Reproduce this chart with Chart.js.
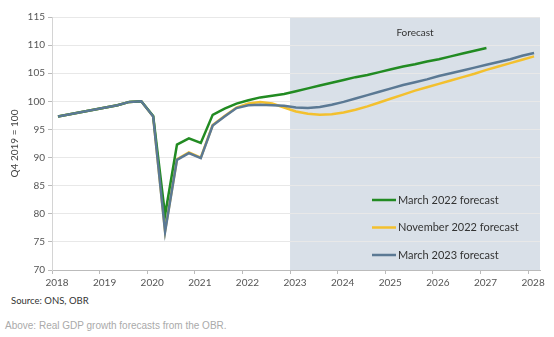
<!DOCTYPE html>
<html>
<head>
<meta charset="utf-8">
<title>Real GDP forecasts</title>
<script src="https://cdn.jsdelivr.net/npm/chart.js@4.4.1/dist/chart.umd.min.js"></script>
<style>
    html, body { margin: 0; padding: 0; background: #fff; }
    #wrap { position: relative; width: 554px; height: 337px; overflow: hidden; }
    #gdpChart { position: absolute; left: 0; top: 0; }
    .source { position: absolute; left: 11px; top: 295px; font: 9.5px Lato, sans-serif; color: #333; }
    .caption { position: absolute; left: 5px; top: 320px; font: 10px "Liberation Sans", Arial, sans-serif; color: #aaa; }
</style>
</head>
<body>
<div id="wrap">
    <canvas id="gdpChart" width="554" height="290"></canvas>
    <div class="source">Source: ONS, OBR</div>
    <div class="caption">Above: Real GDP growth forecasts from the OBR.</div>
</div>
<script>
// Quarters on the x axis, 2018 Q1 to 2028 Q1
const quarters = [
    '2018Q1', '2018Q2', '2018Q3', '2018Q4',
    '2019Q1', '2019Q2', '2019Q3', '2019Q4',
    '2020Q1', '2020Q2', '2020Q3', '2020Q4',
    '2021Q1', '2021Q2', '2021Q3', '2021Q4',
    '2022Q1', '2022Q2', '2022Q3', '2022Q4',
    '2023Q1', '2023Q2', '2023Q3', '2023Q4',
    '2024Q1', '2024Q2', '2024Q3', '2024Q4',
    '2025Q1', '2025Q2', '2025Q3', '2025Q4',
    '2026Q1', '2026Q2', '2026Q3', '2026Q4',
    '2027Q1', '2027Q2', '2027Q3', '2027Q4',
    '2028Q1'
];
const years = [2018, 2019, 2020, 2021, 2022, 2023, 2024, 2025, 2026, 2027, 2028];
const yTicks = [70, 75, 80, 85, 90, 95, 100, 105, 110, 115];
const forecastStart = 2023;

// Real GDP, Q4 2019 = 100
const march2022 = [
    97.3, 97.7, 98.1, 98.5,
    98.9, 99.3, 99.9, 100.0,
    97.4, 79.8, 92.3, 93.4,
    92.6, 97.6, 98.7, 99.6,
    100.2, 100.7, 101.0, 101.3,
    101.8, 102.3, 102.8, 103.3,
    103.8, 104.3, 104.7, 105.2,
    105.7, 106.2, 106.6, 107.1,
    107.5, 108.0, 108.5, 109.0,
    109.5
];
const november2022 = [
    97.3, 97.7, 98.1, 98.5,
    98.9, 99.3, 99.9, 100.0,
    97.3, 77.0, 89.7, 90.9,
    90.0, 95.8, 97.4, 98.9,
    99.6, 99.9, 99.6, 98.9,
    98.2, 97.8, 97.6, 97.7,
    98.0, 98.5, 99.1, 99.8,
    100.5, 101.2, 101.9, 102.5,
    103.1, 103.7, 104.3, 104.9,
    105.6, 106.2, 106.8, 107.4,
    108.0
];
const march2023 = [
    97.3, 97.7, 98.1, 98.5,
    98.9, 99.3, 99.9, 100.0,
    97.3, 76.8, 89.6, 90.8,
    89.9, 95.7, 97.3, 98.8,
    99.3, 99.4, 99.3, 99.2,
    98.9, 98.8, 99.0, 99.4,
    99.9, 100.5, 101.1, 101.7,
    102.3, 102.9, 103.4, 103.9,
    104.5, 105.0, 105.5, 106.0,
    106.5, 107.0, 107.5, 108.1,
    108.6
];

const FONT = 'Lato, "Open Sans", sans-serif';

// quarter label -> middle of that quarter on the year axis
function quarterPos(label) {
    const year = parseInt(label.slice(0, 4), 10);
    const q = parseInt(label.slice(5), 10);
    return year + (q - 0.5) / 4;
}

function toPoints(values) {
    return values.map((v, i) => ({ x: quarterPos(quarters[i]), y: v }));
}

// Shaded forecast period with its label
const forecastShade = {
    id: 'forecastShade',
    beforeDraw(chart) {
        const { ctx, chartArea, scales } = chart;
        const left = scales.x.getPixelForValue(forecastStart);
        ctx.save();
        ctx.fillStyle = '#d9e0e8';
        ctx.fillRect(left, chartArea.top, chartArea.right - left, chartArea.bottom - chartArea.top);
        ctx.fillStyle = '#333';
        ctx.font = '10px ' + FONT;
        ctx.textAlign = 'center';
        ctx.textBaseline = 'middle';
        ctx.fillText('Forecast', (left + chartArea.right) / 2, chartArea.top + 16);
        ctx.restore();
    }
};

// Legend drawn inside the forecast area
const insideLegend = {
    id: 'insideLegend',
    afterDatasetsDraw(chart) {
        const { ctx, chartArea } = chart;
        const x0 = chartArea.right - 168;
        let y = chartArea.top + 183;
        ctx.save();
        ctx.font = '11px ' + FONT;
        ctx.textBaseline = 'middle';
        ctx.textAlign = 'left';
        chart.data.datasets.forEach(ds => {
            ctx.strokeStyle = ds.borderColor;
            ctx.lineWidth = 2.5;
            ctx.beginPath();
            ctx.moveTo(x0, y);
            ctx.lineTo(x0 + 24, y);
            ctx.stroke();
            ctx.fillStyle = '#333';
            ctx.fillText(ds.label, x0 + 26, y);
            y += 27.5;
        });
        ctx.restore();
    }
};

new Chart(document.getElementById('gdpChart'), {
    type: 'line',
    data: {
        datasets: [
            {
                label: 'March 2022 forecast',
                data: toPoints(march2022),
                borderColor: '#228b22',
                order: 1
            },
            {
                label: 'November 2022 forecast',
                data: toPoints(november2022),
                borderColor: '#f3c02e',
                order: 2
            },
            {
                label: 'March 2023 forecast',
                data: toPoints(march2023),
                borderColor: '#5b7994',
                order: 0
            }
        ]
    },
    options: {
        responsive: false,
        animation: false,
        events: [],
        layout: {
            padding: { top: 17, right: 14, bottom: 0, left: 0 }
        },
        elements: {
            line: { borderWidth: 2.5, tension: 0, fill: false },
            point: { radius: 0 }
        },
        plugins: {
            legend: { display: false },
            tooltip: { enabled: false }
        },
        scales: {
            x: {
                type: 'linear',
                min: 2018,
                max: 2028.25,
                afterBuildTicks: scale => {
                    scale.ticks = years.map(v => ({ value: v }));
                },
                afterFit: scale => {
                    scale.height = 20;
                },
                ticks: {
                    font: { family: FONT, size: 10 },
                    color: '#555',
                    padding: 3,
                    labelOffset: 5,
                    maxRotation: 0,
                    callback: v => String(v)
                },
                grid: {
                    drawOnChartArea: false,
                    drawTicks: true,
                    tickLength: 4,
                    color: '#bbb'
                },
                border: { display: true, color: '#bbb' }
            },
            y: {
                min: 70,
                max: 115,
                afterBuildTicks: scale => {
                    scale.ticks = yTicks.map(v => ({ value: v }));
                },
                afterFit: scale => {
                    scale.width = 52;
                },
                ticks: {
                    font: { family: FONT, size: 10 },
                    color: '#555',
                    padding: 3
                },
                grid: {
                    color: '#e8e8e8',
                    tickLength: 4,
                    tickColor: '#bbb'
                },
                border: { display: true, color: '#d4d4d4' },
                title: {
                    display: true,
                    text: 'Q4 2019 = 100',
                    font: { family: FONT, size: 10 },
                    color: '#444',
                    padding: { top: 9, bottom: 0 }
                }
            }
        }
    },
    plugins: [forecastShade, insideLegend]
});
</script>
</body>
</html>
